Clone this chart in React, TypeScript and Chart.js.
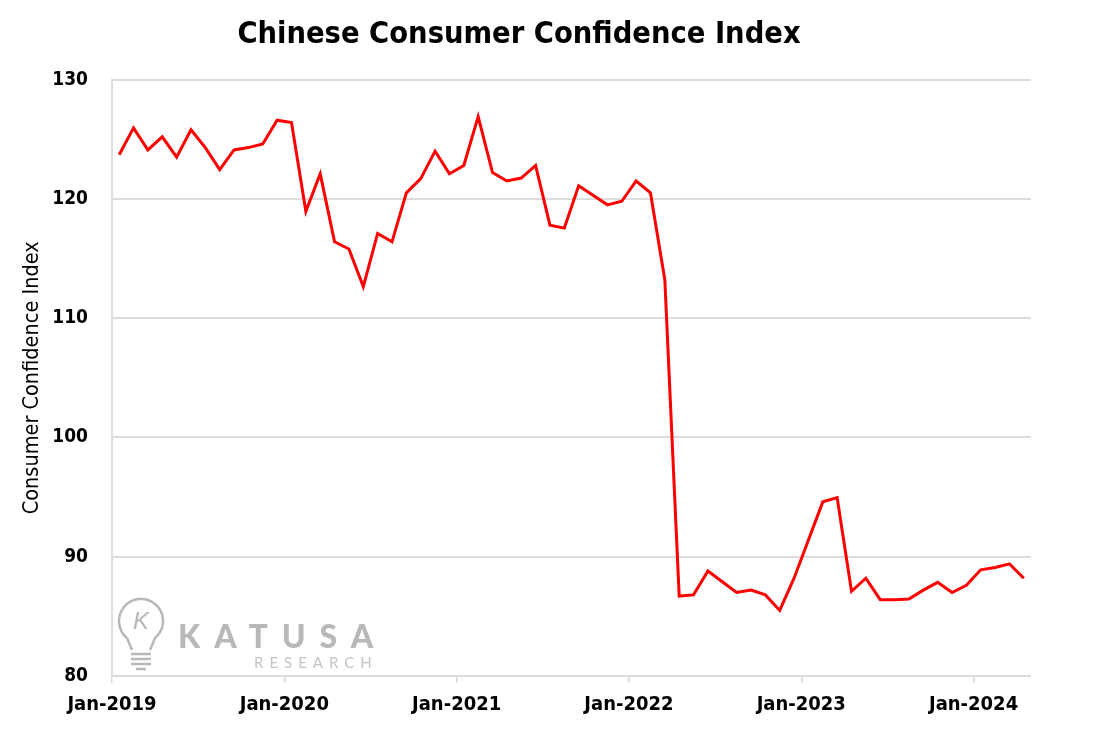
import React, { useEffect, useRef } from "react";
import { Chart, registerables } from "chart.js";

Chart.register(...registerables);

const months: string[] = [
  "Jan-2019", "Feb-2019", "Mar-2019", "Apr-2019", "May-2019", "Jun-2019", "Jul-2019", "Aug-2019", "Sep-2019", "Oct-2019", "Nov-2019", "Dec-2019",
  "Jan-2020", "Feb-2020", "Mar-2020", "Apr-2020", "May-2020", "Jun-2020", "Jul-2020", "Aug-2020", "Sep-2020", "Oct-2020", "Nov-2020", "Dec-2020",
  "Jan-2021", "Feb-2021", "Mar-2021", "Apr-2021", "May-2021", "Jun-2021", "Jul-2021", "Aug-2021", "Sep-2021", "Oct-2021", "Nov-2021", "Dec-2021",
  "Jan-2022", "Feb-2022", "Mar-2022", "Apr-2022", "May-2022", "Jun-2022", "Jul-2022", "Aug-2022", "Sep-2022", "Oct-2022", "Nov-2022", "Dec-2022",
  "Jan-2023", "Feb-2023", "Mar-2023", "Apr-2023", "May-2023", "Jun-2023", "Jul-2023", "Aug-2023", "Sep-2023", "Oct-2023", "Nov-2023", "Dec-2023",
  "Jan-2024", "Feb-2024", "Mar-2024", "Apr-2024",
];

const confidence: number[] = [
  123.7, 125.95, 124.1, 125.2, 123.5, 125.8, 124.3, 122.45, 124.1, 124.3, 124.6, 126.6,
  126.4, 118.95, 122.1, 116.4, 115.8, 112.65, 117.1, 116.4, 120.5, 121.7, 124.0, 122.1,
  122.8, 126.9, 122.2, 121.5, 121.75, 122.8, 117.8, 117.55, 121.1, 120.3, 119.5, 119.8,
  121.5, 120.5, 113.2, 86.7, 86.8, 88.8, 87.9, 87.0, 87.2, 86.8, 85.5, 88.2,
  91.4, 94.6, 94.95, 87.1, 88.2, 86.4, 86.4, 86.45, 87.2, 87.85, 87.0, 87.6,
  88.9, 89.1, 89.4, 88.2,
];

const yearTickLabels: string[] = ["Jan-2019", "Jan-2020", "Jan-2021", "Jan-2022", "Jan-2023", "Jan-2024"];

const titleText = "Chinese Consumer Confidence Index";
const yAxisTitle = "Consumer Confidence Index";

const NARROW = "'Liberation Sans Narrow', 'Arial Narrow', 'DejaVu Sans Condensed', 'Liberation Sans', sans-serif";

export default function App() {
  const ref = useRef<HTMLCanvasElement>(null);

  useEffect(() => {
    document.body.style.margin = "0";
    const watermark = {
      id: "watermark",
      beforeDatasetsDraw(chart: any) {
        const ctx = chart.ctx as CanvasRenderingContext2D;
        ctx.save();
        ctx.strokeStyle = "#b8b8b8";
        ctx.fillStyle = "#b8b8b8";
        ctx.lineWidth = 2.5;
        const cx = 141, cy = 621, r = 22;
        ctx.beginPath();
        ctx.arc(cx, cy, r, 0.72 * Math.PI, 2.28 * Math.PI);
        ctx.lineTo(cx + 9, cy + 29);
        ctx.moveTo(cx - r * Math.cos(0.28 * Math.PI), cy + r * Math.sin(0.28 * Math.PI));
        ctx.lineTo(cx - 9, cy + 29);
        ctx.stroke();
        ctx.beginPath();
        for (const dy of [33, 38, 43]) {
          ctx.moveTo(cx - 10, cy + dy);
          ctx.lineTo(cx + 10, cy + dy);
        }
        ctx.moveTo(cx - 5, cy + 48);
        ctx.lineTo(cx + 5, cy + 48);
        ctx.stroke();
        ctx.font = "italic 24px 'Liberation Sans', sans-serif";
        ctx.textAlign = "center";
        ctx.textBaseline = "middle";
        ctx.fillText("K", cx, cy + 1);
        ctx.textAlign = "left";
        ctx.textBaseline = "alphabetic";
        ctx.font = "900 32px Lato, sans-serif";
        (ctx as any).letterSpacing = "14px";
        ctx.fillText("KATUSA", 178, 648);
        ctx.font = "15px Lato, sans-serif";
        (ctx as any).letterSpacing = "6px";
        ctx.fillStyle = "#c4c4c4";
        ctx.fillText("RESEARCH", 254, 668);
        ctx.restore();
      },
    };

    const chart = new Chart(ref.current as HTMLCanvasElement, {
      type: "line",
      data: {
        datasets: [
          {
            label: "Consumer Confidence Index",
            data: confidence.map((v, i) => ({ x: i + 0.5, y: v })),
            borderColor: "#ff0000",
            backgroundColor: "#ff0000",
            borderWidth: 3,
            pointRadius: 0,
            tension: 0,
          },
        ],
      },
      options: {
        animation: false,
        responsive: false,
        layout: { padding: { left: 7, right: 69, top: 0, bottom: 0 } },
        plugins: {
          legend: { display: false },
          tooltip: { enabled: false },
          title: {
            display: true,
            text: titleText,
            color: "#000000",
            font: { family: NARROW, size: 30.5, weight: "bold" },
            padding: { top: 17, bottom: 26 },
          },
        },
        scales: {
          x: {
            type: "linear",
            min: 0,
            max: months.length,
            afterBuildTicks: (s: any) => {
              s.ticks = yearTickLabels.map((_, k) => ({ value: k * 12 }));
            },
            afterFit: (s: any) => {
              s.height = 66;
            },
            ticks: {
              callback: (v: any) => yearTickLabels[Math.round(Number(v) / 12)] ?? "",
              color: "#000000",
              font: { family: NARROW, size: 20, weight: "bold" },
              padding: 10,
              maxRotation: 0,
              autoSkip: false,
            },
            grid: { drawOnChartArea: false, drawTicks: true, tickLength: 7, color: "#d9d9d9", lineWidth: 1.5 },
            border: { display: false },
          },
          y: {
            min: 80,
            max: 130,
            afterFit: (s: any) => {
              s.width = 105;
            },
            ticks: {
              stepSize: 10,
              color: "#000000",
              font: { family: NARROW, size: 19, weight: "bold" },
              padding: 24,
            },
            grid: { color: "#dcdcdc", lineWidth: 2, drawTicks: false },
            border: { display: true, color: "#dcdcdc", width: 2 },
            title: {
              display: true,
              text: yAxisTitle,
              color: "#000000",
              font: { family: NARROW, size: 21.5 },
              padding: { top: 13, bottom: 0 },
            },
          },
        },
      },
      plugins: [watermark],
    });
    return () => chart.destroy();
  }, []);

  return <canvas ref={ref} width={1100} height={742} style={{ display: "block" }} />;
}
